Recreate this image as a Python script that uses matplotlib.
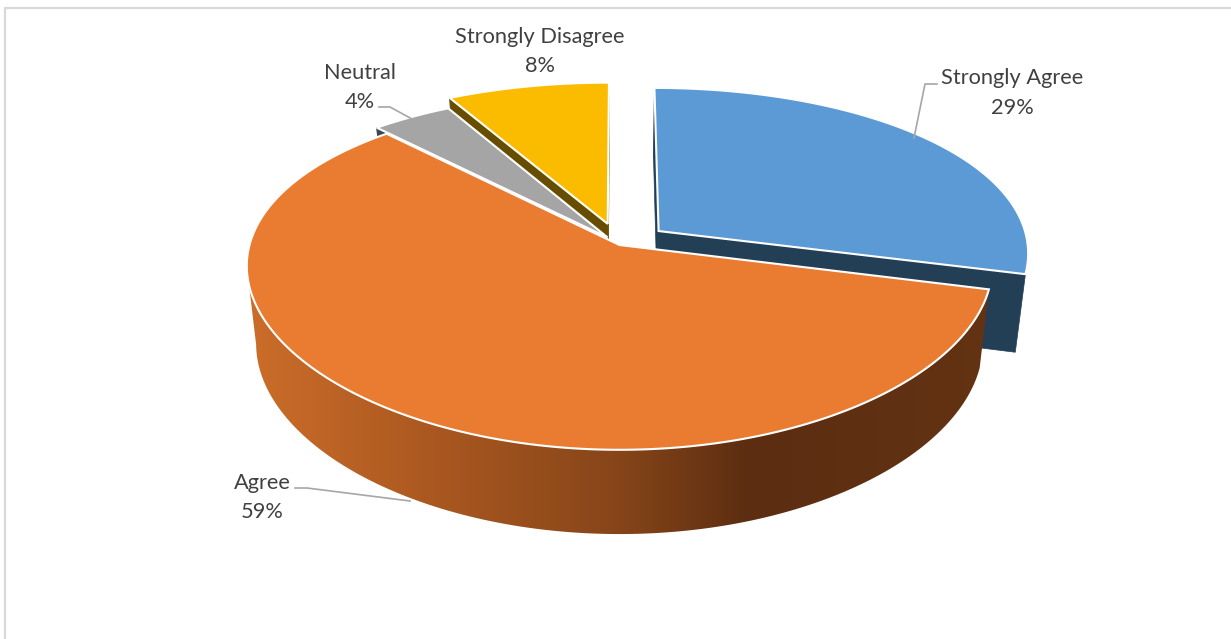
import numpy as np
import matplotlib
matplotlib.use('Agg')
import matplotlib.pyplot as plt
from matplotlib.colors import to_rgb
from matplotlib.patches import Polygon

# data
categories = ['Strongly Agree', 'Agree', 'Neutral', 'Strongly Disagree']
percents = [29, 59, 4, 8]
explode = [0.135, 0.0, 0.055, 0.13]

top_colors = ['#5b9ad5', '#ea7c31', '#a5a5a5', '#fbbc00']
side_colors = ['#233f56', '#5f3012', '#40464c', '#674d00']

label_pos = [(1012, 78), (262, 483), (360, 73), (540, 37)]
leaders = [[(937, 84), (925, 84), (914, 138)],
           [(295, 488), (307, 488), (410, 501)],
           [(379, 107), (390, 107), (412, 119)]]

# perspective of the pie
cx, cy = 619.5, 245
rx, ry = 370, 171
kx, ky = 0.12, 0.165
depth = 77
shrink = 0.975

# shading of the orange wall, left to right on screen
grad_x = [250, 440, 620, 750, 1000]
grad_c = ['#cb6d2a', '#a95720', '#864519', '#5c2d11', '#633313']


def project(u, v, bottom=False):
    x = rx * u / (1 + kx * v)
    s = 1 / (1 + ky * v)
    y = ry * v * s
    if bottom:
        return cx + x * shrink, cy - y + depth * s ** 0.5
    return cx + x, cy - y


fig = plt.figure(figsize=(12.31, 6.39), dpi=100)
ax = fig.add_axes([0, 0, 1, 1])

ax.plot([1231, 5, 5], [8, 8, 639], color='#d9d9d9', lw=1.6)

fracs = np.array(percents) / sum(percents)
starts = np.concatenate([[0], np.cumsum(fracs)[:-1]]) * 2 * np.pi
ends = np.cumsum(fracs) * 2 * np.pi

# back to front
for i in [0, 3, 2, 1]:
    mid = (starts[i] + ends[i]) / 2
    du, dv = explode[i] * np.sin(mid), explode[i] * np.cos(mid)
    th = np.linspace(starts[i], ends[i], 300)
    u = du + np.sin(th)
    v = dv + np.cos(th)

    # cut faces
    if explode[i] > 0:
        for a in [starts[i], ends[i]]:
            p = [project(du, dv), project(du + np.sin(a), dv + np.cos(a)),
                 project(du + np.sin(a), dv + np.cos(a), True), project(du, dv, True)]
            ax.fill(*zip(*p), color=side_colors[i], lw=0.5, zorder=2 + i)

    # outer wall, stops at the left silhouette
    tx, ty = project(u, v)
    bx, by = project(u, v, True)
    nt, nb = np.argmin(tx) + 1, np.argmin(bx) + 1
    wall = np.column_stack([np.append(tx[:nt], bx[:nb][::-1]),
                            np.append(ty[:nt], by[:nb][::-1])])
    if i == 1:
        xs = np.arange(240, 1001)
        rgb = np.array([to_rgb(c) for c in grad_c])
        grad = np.stack([np.interp(xs, grad_x, rgb[:, n]) for n in range(3)], axis=-1)[None, :, :]
        im = ax.imshow(grad, extent=[240, 1000, 600, 100], aspect='auto', zorder=2 + i)
        im.set_clip_path(Polygon(wall, transform=ax.transData))
    else:
        ax.fill(wall[:, 0], wall[:, 1], color=side_colors[i], lw=0.5, zorder=2 + i)

    # top face
    tx, ty = project(np.append(u, du), np.append(v, dv))
    ax.fill(tx, ty, facecolor=top_colors[i], edgecolor='white', lw=1.5,
            joinstyle='miter', zorder=10 + i)

for line in leaders:
    ax.plot(*zip(*line), color='#a6a6a6', lw=1.2, zorder=20)

for name, pct, (x, y) in zip(categories, percents, label_pos):
    ax.text(x, y, name, ha='center', va='center', fontsize=15.7,
            family='Lato', color='#404040', zorder=21)
    ax.text(x, y + 29.5, '%d%%' % pct, ha='center', va='center', fontsize=15.7,
            family='Lato', color='#404040', zorder=21)

ax.set_xlim(0, 1231)
ax.set_ylim(639, 0)
ax.axis('off')

fig.savefig('out.png', dpi=100)
